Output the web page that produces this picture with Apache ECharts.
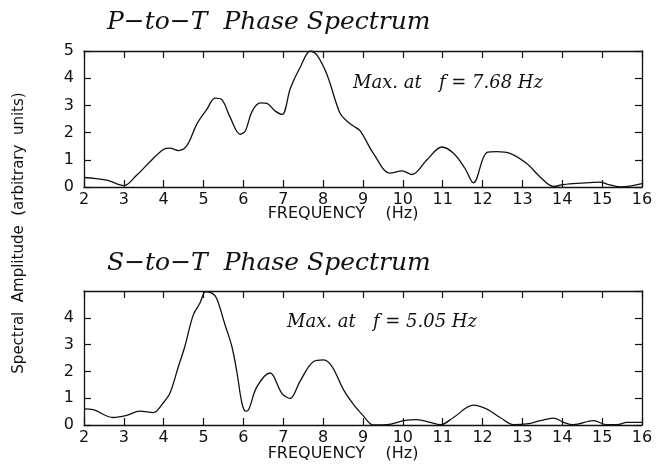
<!DOCTYPE html>
<html>
<head>
<meta charset="utf-8">
<script src="https://cdn.jsdelivr.net/npm/echarts@6/dist/echarts.min.js"></script>
<style>
  html, body { margin: 0; padding: 0; background: #ffffff; }
  #chart { width: 661px; height: 468px; }
</style>
</head>
<body>
<div id="chart"></div>
<script>
// P-to-T phase spectrum: frequency (Hz) and spectral amplitude
const freqP = [2.0, 2.3, 2.6, 3.0, 3.32, 3.65, 3.99, 4.16, 4.37, 4.58, 4.83, 5.08, 5.29, 5.46, 5.67,
  5.92, 6.05, 6.22, 6.43, 6.59, 6.80, 6.97, 7.18, 7.43, 7.68, 7.85, 8.10, 8.42, 8.60, 8.76, 8.93,
  9.26, 9.68, 9.98, 10.23, 10.60, 10.98, 11.27, 11.56, 11.77, 12.11, 12.36, 12.69, 13.11, 13.45,
  13.78, 14.03, 14.45, 14.95, 15.12, 15.45, 15.70, 16.0];
const ampP = [0.35, 0.31, 0.24, 0.05, 0.43, 0.92, 1.38, 1.43, 1.34, 1.52, 2.31, 2.85, 3.27, 3.21, 2.55,
  1.94, 2.07, 2.79, 3.09, 3.07, 2.79, 2.67, 3.64, 4.42, 5.0, 4.84, 4.12, 2.72, 2.42, 2.24, 2.06,
  1.24, 0.51, 0.59, 0.46, 0.99, 1.47, 1.24, 0.68, 0.15, 1.27, 1.30, 1.24, 0.86, 0.36,
  0.02, 0.09, 0.14, 0.18, 0.11, 0.0, 0.03, 0.12];

// S-to-T phase spectrum
const freqS = [2.0, 2.23, 2.73, 3.07, 3.40, 3.74, 3.99, 4.16, 4.37, 4.53, 4.74, 4.91, 5.05, 5.21, 5.33,
  5.54, 5.71, 5.84, 5.96, 6.05, 6.13, 6.34, 6.67, 6.96, 7.17, 7.42, 7.76, 8.01, 8.22, 8.51, 8.76,
  9.01, 9.26, 9.60, 10.02, 10.35, 10.69, 10.94, 11.27, 11.77, 12.11, 12.44, 12.78, 13.11, 13.45,
  13.78, 14.03, 14.28, 14.78, 15.12, 15.37, 15.62, 16.0];
const ampS = [0.6, 0.57, 0.28, 0.36, 0.52, 0.46, 0.83, 1.2, 2.19, 2.93, 4.1, 4.55, 4.97, 4.92, 4.72,
  3.73, 2.93, 1.94, 0.83, 0.52, 0.57, 1.43, 1.94, 1.19, 0.99, 1.63, 2.37, 2.43, 2.19, 1.32, 0.77,
  0.34, 0.0, 0.01, 0.16, 0.2, 0.1, 0.01, 0.28, 0.74, 0.59, 0.28, 0.01, 0.04, 0.16,
  0.26, 0.1, 0.01, 0.16, 0.01, 0.01, 0.1, 0.1];

const freqTicks = [2, 3, 4, 5, 6, 7, 8, 9, 10, 11, 12, 13, 14, 15, 16];
const ampTicks = [0, 1, 2, 3, 4, 5];

const titles = ['P\u2212to\u2212T  Phase Spectrum', 'S\u2212to\u2212T  Phase Spectrum'];
const notes = ['Max. at   f = 7.68 Hz', 'Max. at   f = 5.05 Hz'];
const xName = 'FREQUENCY    (Hz)';
const yName = 'Spectral  Amplitude  (arbitrary  units)';

const INK = '#111111';
const sansFont = '"DejaVu Sans", sans-serif';
const serifFont = '"DejaVu Serif", serif';

function pairs(xs, ys) { return xs.map((x, i) => [x, ys[i]]); }

const grids = [
  { left: 84, width: 558, top: 51, height: 136 },
  { left: 84, width: 558, top: 291, height: 134 }
];

function xAx(gridIndex, pos, labels) {
  return {
    type: 'value', gridIndex, position: pos,
    min: freqTicks[0], max: freqTicks[freqTicks.length - 1], interval: 1,
    axisLine: { show: true, onZero: false, lineStyle: { color: INK, width: 1.3 } },
    axisTick: { show: true, inside: true, length: 7, lineStyle: { color: INK, width: 1.2 } },
    axisLabel: { show: labels, margin: 5, color: INK, fontFamily: sansFont, fontSize: 16 },
    splitLine: { show: false }
  };
}

function yAx(gridIndex, pos, labels, hideTop) {
  return {
    type: 'value', gridIndex, position: pos,
    min: ampTicks[0], max: ampTicks[ampTicks.length - 1], interval: 1,
    axisLine: { show: true, onZero: false, lineStyle: { color: INK, width: 1.3 } },
    axisTick: { show: true, inside: true, length: 7, lineStyle: { color: INK, width: 1.2 } },
    axisLabel: {
      show: labels, margin: 10, color: INK, fontFamily: sansFont, fontSize: 16,
      showMaxLabel: !hideTop
    },
    splitLine: { show: false }
  };
}

function seriesFor(idx, xs, ys) {
  return {
    type: 'line', xAxisIndex: idx * 2, yAxisIndex: idx * 2,
    data: pairs(xs, ys), smooth: 0.35, showSymbol: false,
    lineStyle: { color: INK, width: 1.3 }, silent: true, clip: true
  };
}

function text(str, x, y, font, extra) {
  return {
    type: 'text', x, y, silent: true,
    rotation: (extra && extra.rotation) || 0,
    style: Object.assign({ text: str, fill: INK, font, textVerticalAlign: 'middle' },
      (extra && extra.style) || {})
  };
}

const option = {
  backgroundColor: '#ffffff',
  animation: false,
  grid: grids,
  xAxis: [xAx(0, 'bottom', true), xAx(0, 'top', false), xAx(1, 'bottom', true), xAx(1, 'top', false)],
  yAxis: [yAx(0, 'left', true, false), yAx(0, 'right', false, false), yAx(1, 'left', true, true), yAx(1, 'right', false, false)],
  series: [seriesFor(0, freqP, ampP), seriesFor(1, freqS, ampS)],
  graphic: [
    text(titles[0], 107, 22, 'italic 25px ' + serifFont),
    text(titles[1], 107, 263, 'italic 25px ' + serifFont),
    text(notes[0], 353, 83, 'italic 18px ' + serifFont),
    text(notes[1], 287, 322, 'italic 18px ' + serifFont),
    text(xName, 343, 214, '16px ' + sansFont, { style: { textAlign: 'center' } }),
    text(xName, 343, 454, '16px ' + sansFont, { style: { textAlign: 'center' } }),
    text(yName, 19, 233, '15px ' + sansFont, { rotation: Math.PI / 2, style: { textAlign: 'center' } })
  ]
};

const chart = echarts.init(document.getElementById('chart'), null, { renderer: 'canvas' });
chart.setOption(option);
</script>
</body>
</html>
